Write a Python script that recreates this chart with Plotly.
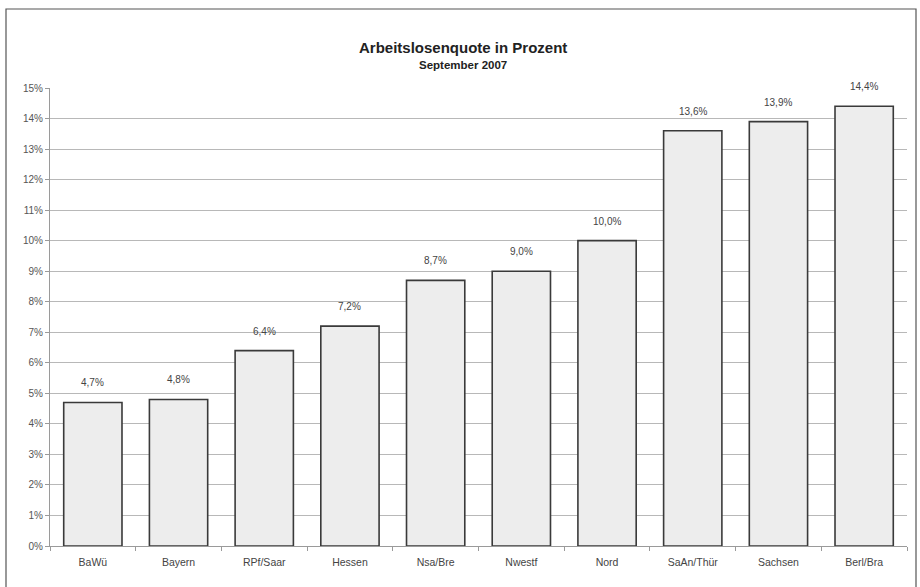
import plotly.graph_objects as go

# Arbeitslosenquote nach Region, September 2007
regionen = ["BaWü", "Bayern", "RPf/Saar", "Hessen", "Nsa/Bre",
            "Nwestf", "Nord", "SaAn/Thür", "Sachsen", "Berl/Bra"]
quote = [4.7, 4.8, 6.4, 7.2, 8.7, 9.0, 10.0, 13.6, 13.9, 14.4]
y_ticks = list(range(0, 16))
y_ticktext = [f"{v}%" for v in y_ticks]

FONT = "Liberation Sans, Arial, sans-serif"
PLOT_H = 458

fig = go.Figure()
fig.add_trace(go.Bar(
    x=regionen,
    y=quote,
    marker=dict(color="#ededed", line=dict(color="#3a3a3a", width=1.6)),
    hoverinfo="x+y",
))

# value labels above each bar
for r, q in zip(regionen, quote):
    fig.add_annotation(
        x=r, y=q, text=f"{q:.1f}%".replace(".", ","),
        showarrow=False, yanchor="bottom", yshift=12,
        font=dict(family=FONT, size=10, color="#444444"),
    )

# title block
fig.add_annotation(
    xref="paper", yref="paper", x=0.482, y=1.0 + 41 / PLOT_H,
    text="<b>Arbeitslosenquote in Prozent</b>", showarrow=False,
    yanchor="middle", font=dict(family=FONT, size=15, color="#222222"),
)
fig.add_annotation(
    xref="paper", yref="paper", x=0.482, y=1.0 + 23 / PLOT_H,
    text="<b>September 2007</b>", showarrow=False,
    yanchor="middle", font=dict(family=FONT, size=11.5, color="#222222"),
)

# page frame
fig.add_shape(
    type="rect", xref="paper", yref="paper",
    x0=(6 - 50) / 857, x1=(916 - 50) / 857,
    y0=-0.3, y1=1 + 79 / PLOT_H,
    line=dict(color="#555555", width=1.2), layer="below",
)

fig.update_layout(
    width=920, height=587,
    margin=dict(l=50, r=13, t=88, b=41),
    paper_bgcolor="white", plot_bgcolor="white",
    bargap=0.32,
    showlegend=False,
    font=dict(family=FONT, size=10, color="#555555"),
)
fig.update_xaxes(
    showgrid=False, showline=True, linecolor="#9a9a9a", linewidth=1,
    ticks="outside", tickson="boundaries", ticklen=4, tickcolor="#9a9a9a",
    ticklabelstandoff=6,
    tickfont=dict(family=FONT, size=10.5, color="#444444"),
)
fig.update_yaxes(
    range=[0, 15], tickvals=y_ticks, ticktext=y_ticktext,
    showgrid=True, gridcolor="#b8b8b8", gridwidth=1,
    showline=True, linecolor="#9a9a9a", linewidth=1,
    ticks="outside", ticklen=4, tickcolor="#9a9a9a",
    tickfont=dict(family=FONT, size=10, color="#555555"),
    zeroline=False,
)

fig.write_html("out.html")
